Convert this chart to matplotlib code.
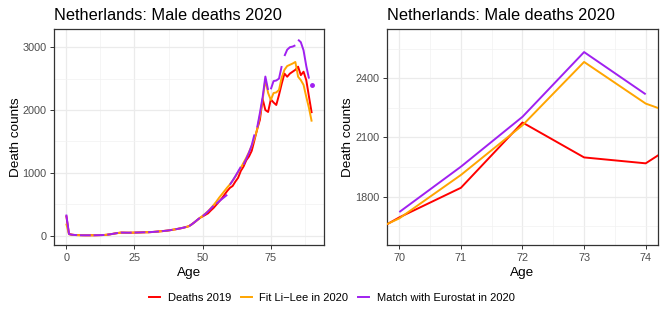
import numpy as np
import matplotlib
matplotlib.use("Agg")
import matplotlib.pyplot as plt
from matplotlib.ticker import FixedLocator

plt.rcParams['font.family'] = ['Liberation Sans', 'DejaVu Sans']

ages = list(range(0, 91))

deaths_2019 = [320, 25, 15, 10, 8, 7, 6, 5, 5, 5,
               5, 6, 7, 8, 10, 14, 20, 27, 35, 42,
               48, 47, 46, 45, 46, 47, 48, 50, 52, 53,
               52, 55, 58, 62, 66, 70, 74, 78, 85, 92,
               100, 108, 116, 125, 137, 150, 180, 212, 248, 282,
               305, 330, 355, 400, 440, 490, 540, 590, 650, 710,
               760, 790, 860, 920, 1030, 1100, 1200, 1260, 1350, 1520,
               1695, 1845, 2176, 1999, 1969, 2170, 2120, 2080, 2240, 2420,
               2580, 2530, 2580, 2610, 2640, 2690, 2555, 2610, 2476, 2210,
               1950]

fit_lilee_2020 = [190, 22, 13, 9, 7, 6, 5, 5, 5, 5,
                  5, 6, 7, 8, 10, 14, 20, 27, 34, 40,
                  45, 46, 46, 46, 47, 48, 49, 50, 51, 52,
                  54, 56, 59, 62, 66, 70, 75, 80, 86, 93,
                  100, 108, 117, 127, 138, 150, 178, 210, 245, 280,
                  315, 350, 390, 435, 485, 540, 600, 655, 710, 765,
                  815, 875, 940, 1010, 1080, 1160, 1240, 1330, 1430, 1545,
                  1690, 1910, 2162, 2483, 2272, 2160, 2270, 2280, 2320, 2520,
                  2640, 2700, 2720, 2740, 2765, 2530, 2476, 2400, 2210, 2030,
                  1815]

eurostat_2020 = [335, 25, 14, 10, 8, 6, 5, 5, 5, 5,
                 5, 6, 7, 8, 10, 14, 20, 27, 35, 42,
                 47, 47, 46, 46, 47, 48, 49, 50, 52, 53,
                 54, 56, 59, 62, 66, 70, 75, 80, 86, 93,
                 100, 108, 117, 127, 138, 150, 178, 212, 248, 282,
                 310, 345, 385, 430, 475, 505, 545, 580, 615, 650,
                 810, 875, 945, 1020, 1095, 1130, 1220, 1320, 1440, 1610,
                 1722, 1952, 2205, 2533, 2319, 2330, 2460, 2470, 2500, 2700,
                 2860, 2960, 3000, 3010, 3030, 3120, 3080, 2950, 2700, 2500,
                 2400]

series_labels = ["Deaths 2019", "Fit Li\u2212Lee in 2020", "Match with Eurostat in 2020"]
series_colors = ["red", "orange", "#A020F0"]
title_text = "Netherlands: Male deaths 2020"

W, H = 664, 313
fig = plt.figure(figsize=(W / 100, H / 100), dpi=100)


def style_axes(ax):
    for sp in ax.spines.values():
        sp.set_color('#333333')
        sp.set_linewidth(0.9)
    ax.grid(which='major', color='#EBEBEB', linewidth=0.9, zorder=0)
    ax.grid(which='minor', color='#F2F2F2', linewidth=0.5, zorder=0)
    ax.set_axisbelow(True)
    ax.tick_params(which='major', length=3, width=0.7, color='#333333',
                   labelsize=7.8, labelcolor='#4D4D4D', pad=2.5)
    ax.tick_params(which='minor', length=0)
    ax.set_xlabel("Age", fontsize=9.7, labelpad=3)
    ax.set_ylabel("Death counts", fontsize=9.7, labelpad=0.5)
    ax.set_title(title_text, loc='left', fontsize=11.8, pad=6.5)


def draw(ax, lw=1.4):
    a = np.array(ages)
    ax.plot(a, deaths_2019, color=series_colors[0], lw=lw, zorder=3, solid_capstyle='butt')
    ax.plot(a, fit_lilee_2020, color=series_colors[1], lw=lw, zorder=4, solid_capstyle='butt')
    e = np.array(eurostat_2020, dtype=float)
    for start in range(0, 91, 5):
        idx = slice(start, min(start + 5, 91))
        seg_a = a[idx]
        seg_v = e[idx]
        if len(seg_a) > 1:
            ax.plot(seg_a, seg_v, color=series_colors[2], lw=lw, zorder=5, solid_capstyle='butt')
        else:
            ax.plot(seg_a, seg_v, 'o', color=series_colors[2], ms=2.5, zorder=5)


# Left panel
ax1 = fig.add_axes([54 / W, (H - 245) / H, 270 / W, 216 / H])
draw(ax1)
ax1.set_xlim(-4.5, 94.5)
ax1.set_ylim(-150, 3290)
ax1.xaxis.set_major_locator(FixedLocator([0, 25, 50, 75]))
ax1.xaxis.set_minor_locator(FixedLocator([12.5, 37.5, 62.5, 87.5]))
ax1.yaxis.set_major_locator(FixedLocator([0, 1000, 2000, 3000]))
ax1.yaxis.set_minor_locator(FixedLocator([500, 1500, 2500]))
style_axes(ax1)

# Right panel (zoom)
ax2 = fig.add_axes([387 / W, (H - 245) / H, 271 / W, 216 / H])
draw(ax2)
ax2.set_xlim(69.8, 74.2)
ax2.set_ylim(1555, 2650)
ax2.xaxis.set_major_locator(FixedLocator([70, 71, 72, 73, 74]))
ax2.xaxis.set_minor_locator(FixedLocator([70.5, 71.5, 72.5, 73.5]))
ax2.yaxis.set_major_locator(FixedLocator([1800, 2100, 2400]))
ax2.yaxis.set_minor_locator(FixedLocator([1650, 1950, 2250, 2550]))
style_axes(ax2)

handles = [plt.Line2D([], [], color=c, lw=1.4) for c in series_colors]
fig.legend(handles, series_labels, loc='center', bbox_to_anchor=(0.5, 15 / H),
           ncol=3, frameon=False, fontsize=8.0, handlelength=0.95,
           handletextpad=0.7, columnspacing=0.9)

fig.savefig("out.png", dpi=100)
